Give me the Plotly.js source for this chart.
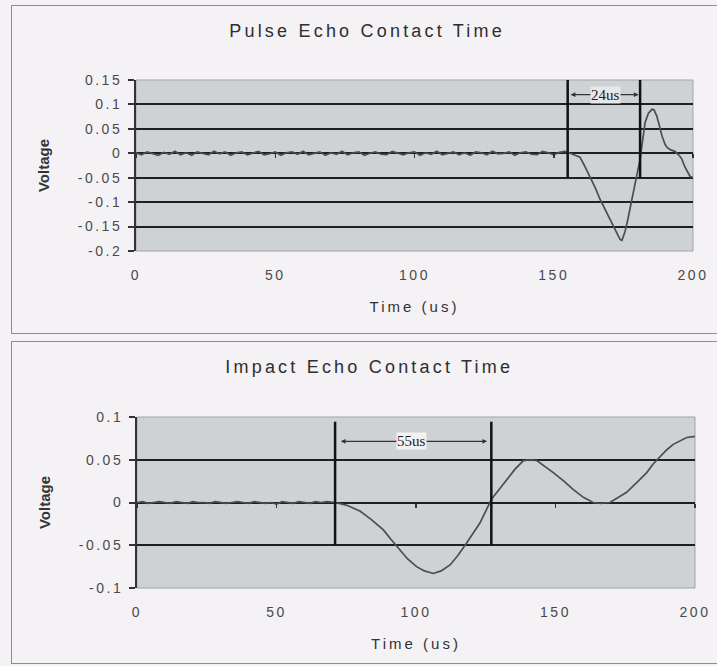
<!DOCTYPE html>
<html><head><meta charset="utf-8">
<script src="https://cdn.plot.ly/plotly-3.0.1.min.js"></script>
<style>
html,body{margin:0;padding:0;background:#f4f2f5;width:717px;height:666px;overflow:hidden;}
.panel{position:absolute;border:1.5px solid #8c8c8c;box-sizing:border-box;}
.chart{position:absolute;left:0;width:717px;}
.gtitle {letter-spacing:3.2px;}
.xtick text, .ytick text {letter-spacing:2.5px;}
.xtitle {letter-spacing:3px;}
</style></head>
<body>
<div class="panel" style="left:11px;top:5px;width:720px;height:329px;"></div>
<div class="panel" style="left:11px;top:341px;width:720px;height:323px;"></div>
<div id="c1" class="chart" style="top:0;height:337px;"></div>
<div id="c2" class="chart" style="top:337px;height:329px;"></div>
<script>
// ---------- Pulse echo (top) ----------
const pulseBaseTime = [0,2,4,6,8,10,12,14,16,18,20,22,24,26,28,30,32,34,36,38,40,42,44,46,48,50,52,54,56,58,60,62,64,66,68,70,72,74,76,78,80,82,84,86,88,90,92,94,96,98,100,102,104,106,108,110,112,114,116,118,120,122,124,126,128,130,132,134,136,138,140,142,144,146,148,150,152,154];
const pulseBaseVolt = [0.001,-0.003,0.003,0.000,-0.004,0.002,-0.002,0.004,-0.003,0.001,
 -0.004,0.003,0.000,-0.003,0.004,-0.001,0.003,-0.004,0.001,0.003,
 -0.003,0.000,0.004,-0.003,-0.001,0.003,-0.004,0.001,0.003,-0.002,
 0.004,-0.003,0.000,0.003,-0.004,0.001,-0.002,0.004,-0.003,0.001,
 0.003,-0.004,0.000,0.003,-0.002,-0.003,0.004,0.000,-0.003,0.001,
 0.003,-0.004,0.001,-0.002,0.004,-0.003,0.000,0.003,-0.003,0.001,
 -0.004,0.003,0.001,-0.003,0.004,-0.001,0.000,0.003,-0.004,0.001,
 0.003,-0.002,-0.003,0.004,0.001,-0.003,0.002,0.004];
const pulseWaveTime = [155,157,159.4,161,163,165,166.6,168.5,170.2,172,173.8,174.5,175.6,176.5,177.4,178.7,179.9,181,182,182.8,184,185.3,186,187,188,188.9,190,190.7,192,193.5,195.3,196,197,198,198.9,200];
const pulseWaveVolt = [0.002,-0.002,-0.008,-0.025,-0.047,-0.072,-0.094,-0.116,-0.135,-0.156,-0.176,-0.178,-0.16,-0.138,-0.114,-0.08,-0.047,-0.012,0.03,0.063,0.082,0.09,0.089,0.076,0.055,0.035,0.018,0.012,0.007,0.004,-0.006,-0.012,-0.027,-0.038,-0.047,-0.05];
const pulseMarkers = [155, 181];
const pulseMarkerSpan = [0.15, -0.05];
const pulseLabel = "24us";
const pulseYTicks = [-0.2,-0.15,-0.1,-0.05,0,0.05,0.1,0.15];
const pulseYText = ["-0.2","-0.15","-0.1","-0.05","0","0.05","0.1","0.15"];

// ---------- Impact echo (bottom) ----------
const impactBaseTime = [0,2,4,6,8,10,12,14,16,18,20,22,24,26,28,30,32,34,36,38,40,42,44,46,48,50,52,54,56,58,60,62,64,66,68,70];
const impactBaseVolt = [0.000,0.001,-0.001,0.000,0.001,0.000,-0.001,0.001,0.000,-0.001,
 0.001,0.000,0.000,-0.001,0.001,0.000,-0.001,0.000,0.001,0.000,
 -0.001,0.001,0.000,-0.001,0.000,-0.002,0.001,0.000,-0.001,0.001,
 0.000,-0.001,0.001,0.000,0.001,0.000];
const impactWaveTime = [71,75,79.9,84,88.3,91,94.3,97,100.2,103,106.2,109,112.2,115,118.2,120.5,122.9,125,127.1,130,132.5,135.5,138.5,141,143.3,146,149.2,153,156.4,160,163.5,166,169.5,172,175.5,179,182.7,185,187.5,190,192.2,195,197,199.4,200];
const impactWaveVolt = [0,-0.003,-0.010,-0.020,-0.032,-0.043,-0.055,-0.066,-0.075,-0.080,-0.083,-0.080,-0.073,-0.062,-0.047,-0.036,-0.024,-0.010,0.004,0.016,0.027,0.039,0.049,0.050,0.049,0.043,0.035,0.025,0.015,0.006,0.000,-0.001,0.000,0.005,0.012,0.023,0.035,0.045,0.054,0.062,0.068,0.073,0.076,0.077,0.077];
const impactMarkers = [71, 127];
const impactMarkerSpan = [0.0945, -0.05];
const impactLabel = "55us";
const impactYTicks = [-0.1,-0.05,0,0.05,0.1];
const impactYText = ["-0.1","-0.05","0","0.05","0.1"];

const xTicks = [0,50,100,150,200];

const SANS = '"Liberation Sans", Arial, sans-serif';
const TICKFONT = {family:SANS, size:14, color:'#4a4a4a'};
const SERIF = {family:'"Liberation Serif", "Times New Roman", serif', size:15, color:'#222'};

function makeChart(div, o) {
  const traces = [{
    type:'scatter', mode:'lines',
    x: o.baseT.concat(o.waveT), y: o.baseV.concat(o.waveV),
    line:{color:'#4d4d4d', width:1.7}, hoverinfo:'skip', showlegend:false
  }];
  o.markers.forEach(t => traces.push({
    type:'scatter', mode:'lines', xaxis:'x2',
    x:[t,t], y:o.span, line:{color:'#111', width:2.5}, hoverinfo:'skip', showlegend:false
  }));
  const zeroFrac = (0 - o.yrange[0])/(o.yrange[1]-o.yrange[0]);
  const layout = {
    width:717, height:o.h,
    margin:o.margin,
    paper_bgcolor:'rgba(0,0,0,0)', plot_bgcolor:'#cfd2d4',
    title:{text:o.title, x:o.titleX, xref:'container', y:o.titleY, yref:'container', yanchor:'middle', xanchor:'center',
      font:{family:SANS, size:18, color:'#2e2e2e'}},
    xaxis:{range:[0,200], tickvals:xTicks, ticktext:xTicks.map(String), showgrid:false, zeroline:false,
      showline:false, ticks:'', ticklabelstandoff:14, tickfont:TICKFONT, automargin:false,
      title:{text:'Time (us)', standoff:19, font:{family:SANS, size:15, color:'#333'}}},
    xaxis2:{overlaying:'x', anchor:'free', position:zeroFrac, range:[0,200], tickvals:xTicks,
      ticks:'outside', ticklen:4, tickwidth:1.5, tickcolor:'#333', showticklabels:false, showgrid:false, zeroline:false, showline:false},
    yaxis:{range:o.yrange, tickvals:o.yticks, ticktext:o.ytext, showgrid:true, gridcolor:'#1f1f1f', gridwidth:2,
      zeroline:false, showline:true, linecolor:'#333', linewidth:2, ticks:'outside', ticklen:6, tickwidth:2,
      tickcolor:'#333', tickfont:TICKFONT, ticklabelstandoff:3, automargin:false,
      title:{text:'Voltage', standoff:25, font:{family:SANS, size:15, color:'#333', weight:'bold'}}},
    shapes:[{type:'rect', xref:'paper', yref:'paper', x0:0, x1:1, y0:0, y1:1, line:{color:'#a3a3a3', width:1}, layer:'below'}],
    annotations:[
      {xref:'x', yref:'y', x:o.arrow[1], y:o.arrowY, ax:o.arrow[0], ay:o.arrowY, axref:'x', ayref:'y', text:'',
       showarrow:true, arrowhead:2, startarrowhead:2, arrowside:'end+start', arrowsize:0.8, startarrowsize:0.8,
       arrowwidth:1.2, arrowcolor:'#333'},
      {xref:'x', yref:'y', x:o.labelX, y:o.arrowY, text:o.label, showarrow:false, font:SERIF, bgcolor:o.labelBg, borderpad:0}
    ]
  };
  Plotly.newPlot(div, traces, layout, {staticPlot:true, displayModeBar:false});
}

makeChart('c1', {
  h:337, margin:{l:136, r:24, t:80, b:86},
  baseT:pulseBaseTime, baseV:pulseBaseVolt, waveT:pulseWaveTime, waveV:pulseWaveVolt,
  markers:pulseMarkers, span:pulseMarkerSpan, yrange:[-0.2,0.15], yticks:pulseYTicks, ytext:pulseYText,
  title:'Pulse Echo Contact Time', titleX:0.512, titleY:1-31/337,
  arrow:[155.5,180.5], arrowY:0.12, labelX:168.5, label:pulseLabel, labelBg:'#e6e7e8'
});
makeChart('c2', {
  h:329, margin:{l:137, r:22, t:80, b:78},
  baseT:impactBaseTime, baseV:impactBaseVolt, waveT:impactWaveTime, waveV:impactWaveVolt,
  markers:impactMarkers, span:impactMarkerSpan, yrange:[-0.1,0.1], yticks:impactYTicks, ytext:impactYText,
  title:'Impact Echo Contact Time', titleX:0.515, titleY:1-30/329,
  arrow:[72.5,125.5], arrowY:0.0715, labelX:98.4, label:impactLabel, labelBg:'#f2f2f2'
});
</script>
</body></html>
